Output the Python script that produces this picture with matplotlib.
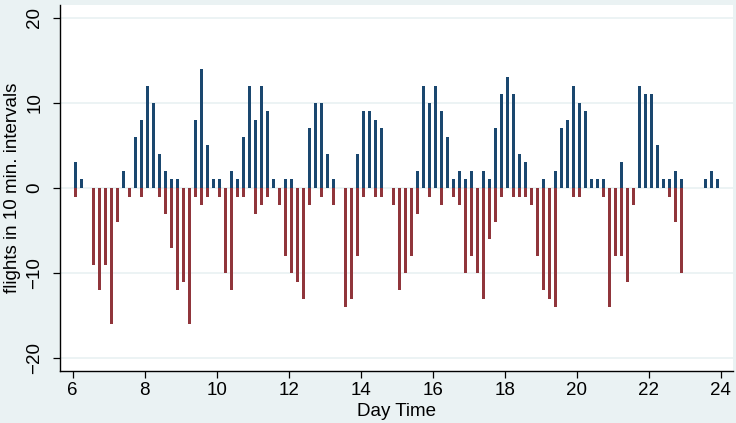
import numpy as np
import matplotlib
matplotlib.use("Agg")
import matplotlib.pyplot as plt

plt.rcParams['font.family'] = ['Liberation Sans', 'DejaVu Sans']

# arrivals per 10 min interval, one row per hour (6:00 ... 23:50)
arrivals = [
    3, 1, 0, 0, 0, 0,
    0, 0, 2, 0, 6, 8,
    12, 10, 4, 2, 1, 1,
    0, 0, 8, 14, 5, 1,
    1, 0, 2, 1, 6, 12,
    8, 12, 9, 1, 0, 1,
    1, 0, 0, 7, 10, 10,
    4, 1, 0, 0, 0, 4,
    9, 9, 8, 7, 0, 0,
    0, 0, 0, 2, 12, 10,
    12, 9, 6, 1, 2, 1,
    2, 0, 2, 1, 7, 11,
    13, 11, 4, 3, 0, 0,
    1, 0, 2, 7, 8, 12,
    10, 9, 1, 1, 1, 0,
    0, 3, 0, 0, 12, 11,
    11, 5, 1, 1, 2, 1,
    0, 0, 0, 1, 2, 1,
]

# departures per 10 min interval (drawn downwards)
departures = [
    1, 0, 0, 9, 12, 9,
    16, 4, 0, 1, 0, 1,
    0, 0, 1, 3, 7, 12,
    11, 16, 1, 2, 1, 0,
    1, 10, 12, 1, 1, 0,
    3, 2, 1, 0, 2, 8,
    10, 11, 13, 2, 0, 1,
    0, 2, 0, 14, 13, 8,
    1, 0, 1, 1, 0, 2,
    12, 10, 8, 3, 0, 1,
    0, 2, 0, 1, 2, 10,
    8, 10, 13, 6, 4, 1,
    0, 1, 1, 1, 2, 8,
    12, 13, 14, 0, 0, 1,
    1, 0, 0, 0, 1, 14,
    8, 8, 11, 2, 0, 0,
    0, 0, 0, 1, 4, 10,
    0, 0, 0, 0, 0, 0,
]

xticks = [6, 8, 10, 12, 14, 16, 18, 20, 22, 24]
yticks = [-20, -10, 0, 10, 20]

# bar centres = middle of each 10 min slot
t = 6 + (np.arange(len(arrivals)) + 0.5) / 6
arr = np.array(arrivals)
dep = -np.array(departures)

bg = '#eaf2f3'
fig = plt.figure(figsize=(7.36, 4.23), dpi=100, facecolor=bg)
ax = fig.add_axes([60 / 736, 52 / 423, 673 / 736, 366 / 423])
ax.set_facecolor('white')

ax.bar(t[arr > 0], arr[arr > 0], width=0.075, color='#1a476f', zorder=3)
ax.bar(t[dep < 0], dep[dep < 0], width=0.075, color='#90353b', zorder=3)

ax.set_xlim(5.65, 24.34)
ax.set_ylim(-21.5, 21.5)
ax.set_xticks(xticks)
ax.set_yticks(yticks)
ax.set_yticklabels(['\u221220', '\u221210', '0', '10', '20'], rotation=90, va='center')
ax.yaxis.grid(True, color=bg, lw=1.3, zorder=1)
ax.set_axisbelow(True)

for s in ['top', 'right']:
    ax.spines[s].set_visible(False)
for s in ['left', 'bottom']:
    ax.spines[s].set_linewidth(1.0)
ax.tick_params(axis='both', direction='out', length=5, width=0.9, labelsize=13.5)
ax.tick_params(axis='y', pad=7)
ax.tick_params(axis='x', pad=3)

ax.set_xlabel('Day Time', fontsize=13.5, labelpad=3)
ax.set_ylabel('flights in 10 min. intervals', fontsize=13.5, labelpad=4)

fig.savefig('out.png', dpi=100, facecolor=bg)
